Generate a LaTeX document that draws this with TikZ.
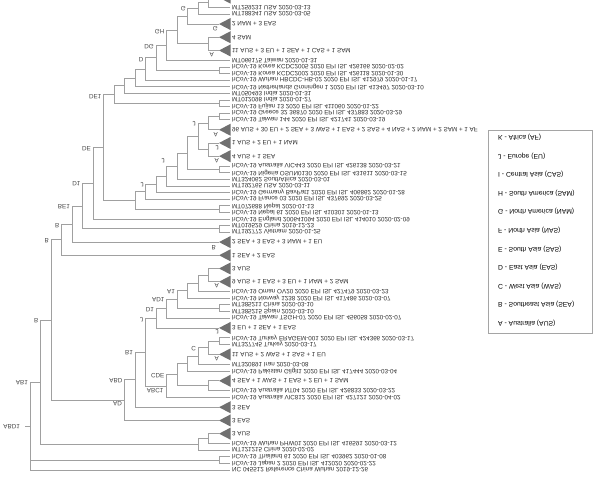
\documentclass[tikz,border=0pt]{standalone}
\usepackage{fontspec}
\setmainfont{Liberation Sans}
\definecolor{brc}{RGB}{160,160,160}
\definecolor{trc}{RGB}{112,112,112}
\definecolor{txc}{RGB}{45,45,45}
\definecolor{nlc}{RGB}{70,70,70}
\definecolor{bxc}{RGB}{165,165,165}
\newcommand\tedge[2]{\draw[br] (#1) |- (#2);}
\newcommand\ttri[1]{\fill[tri] (#1) -- ++(11.5,-6) -- ++(0,12) -- cycle;}
\begin{document}
\begin{tikzpicture}[x=1bp,y=-1bp,
  br/.style={draw=brc,line width=0.75bp},
  lf/.style={anchor=west,inner sep=0pt,yscale=-1,text=txc,font=\fontsize{6.3}{7}\selectfont},
  nl/.style={anchor=east,inner sep=0pt,yscale=-1,text=nlc,font=\fontsize{6.3}{7}\selectfont},
  tri/.style={fill=trc},
  lg/.style={anchor=west,inner sep=0pt,yscale=-1,text=black,font=\fontsize{6.8}{8}\selectfont},
  box/.style={draw=bxc,line width=0.75bp}]
\useasboundingbox (0,0) rectangle (600,489);
\clip (0,0) rectangle (600,489);
% ---------- leaves ----------
\coordinate (T0) at (219,-2.39);
\coordinate (L1) at (229.5,7.52);
\coordinate (L2) at (229.5,14.12);
\coordinate (T3) at (219,24.04);
\coordinate (T4) at (219,37.25);
\coordinate (T5) at (219,50.46);
\coordinate (L6) at (229.5,60.37);
\coordinate (L7) at (229.5,66.98);
\coordinate (L8) at (229.5,73.59);
\coordinate (L9) at (229.5,80.19);
\coordinate (L10) at (229.5,86.80);
\coordinate (L11) at (229.5,93.41);
\coordinate (L12) at (229.5,100.02);
\coordinate (L13) at (229.5,106.62);
\coordinate (L14) at (229.5,113.23);
\coordinate (L15) at (229.5,119.84);
\coordinate (T16) at (219,129.75);
\coordinate (T17) at (219,142.96);
\coordinate (T18) at (219,156.18);
\coordinate (L19) at (229.5,166.09);
\coordinate (L20) at (229.5,172.69);
\coordinate (L21) at (229.5,179.30);
\coordinate (L22) at (229.5,185.91);
\coordinate (L23) at (229.5,192.51);
\coordinate (L24) at (229.5,199.12);
\coordinate (L25) at (229.5,205.73);
\coordinate (L26) at (229.5,212.33);
\coordinate (L27) at (229.5,218.94);
\coordinate (L28) at (229.5,225.55);
\coordinate (L29) at (229.5,232.16);
\coordinate (T30) at (219,242.07);
\coordinate (T31) at (219,255.28);
\coordinate (T32) at (219,268.49);
\coordinate (T33) at (219,281.71);
\coordinate (L34) at (229.5,291.62);
\coordinate (L35) at (229.5,298.23);
\coordinate (L36) at (229.5,304.83);
\coordinate (L37) at (229.5,311.44);
\coordinate (L38) at (229.5,318.05);
\coordinate (T39) at (219,327.96);
\coordinate (L40) at (229.5,337.87);
\coordinate (L41) at (229.5,344.47);
\coordinate (T42) at (219,354.39);
\coordinate (L43) at (229.5,364.30);
\coordinate (L44) at (229.5,370.90);
\coordinate (T45) at (219,380.81);
\coordinate (L46) at (229.5,390.72);
\coordinate (L47) at (229.5,397.33);
\coordinate (T48) at (219,407.24);
\coordinate (T49) at (219,420.46);
\coordinate (T50) at (219,433.67);
\coordinate (L51) at (229.5,443.58);
\coordinate (L52) at (229.5,450.19);
\coordinate (L53) at (229.5,456.79);
\coordinate (L54) at (229.5,463.40);
\coordinate (L55) at (229.5,470.01);
% ---------- internal nodes ----------
\coordinate (nTop) at (208.5,2.57);
\coordinate (nB) at (198,8.35);
\coordinate (nG) at (187.5,16.19);
\coordinate (n45) at (208.5,43.86);
\coordinate (nGH) at (177,30.03);
\coordinate (nDG) at (166.5,45.2);
\coordinate (pK) at (219,70.29);
\coordinate (nD) at (156,57.74);
\coordinate (nXa) at (145.5,68.97);
\coordinate (nXb) at (135,77.88);
\coordinate (nXc) at (124.5,85.65);
\coordinate (pI) at (219,103.32);
\coordinate (nXd) at (114,94.48);
\coordinate (pG) at (219,116.54);
\coordinate (nJtwo) at (208.5,123.15);
\coordinate (nTT) at (208.5,149.57);
\coordinate (nJa) at (198,136.36);
\coordinate (pV) at (219,169.39);
\coordinate (nJb) at (187.5,152.88);
\coordinate (nJc) at (177,166.09);
\coordinate (nJd) at (166.5,176.0);
\coordinate (nJe) at (156,184.26);
\coordinate (nJf) at (145.5,191.69);
\coordinate (pN) at (219,209.03);
\coordinate (nJg) at (135,200.36);
\coordinate (nDEone) at (103.5,147.42);
\coordinate (nDE) at (93,183.18);
\coordinate (pC) at (219,228.86);
\coordinate (nDone) at (82.5,206.02);
\coordinate (nBEone) at (72,224.05);
\coordinate (nBb) at (61.5,239.67);
\coordinate (pT) at (208.5,275.1);
\coordinate (nAa) at (198,283.36);
\coordinate (nAb) at (187.5,290.8);
\coordinate (pS) at (219,308.14);
\coordinate (nAc) at (177,299.47);
\coordinate (nAd) at (166.5,308.76);
\coordinate (nAe) at (156,318.36);
\coordinate (pTk) at (219,341.17);
\coordinate (nC) at (208.5,347.78);
\coordinate (nCa) at (198,356.04);
\coordinate (nCb) at (187.5,363.47);
\coordinate (nCc) at (208.5,385.77);
\coordinate (nCd) at (177,374.62);
\coordinate (nCDE) at (166.5,385.98);
\coordinate (nJp) at (145.5,352.17);
\coordinate (nBone) at (135,379.70);
\coordinate (nABD) at (124.5,400.08);
\coordinate (nBB) at (51,319.88);
\coordinate (nPHW) at (208.5,438.63);
\coordinate (nMT) at (198,444.41);
\coordinate (nABone) at (40.5,382.15);
\coordinate (pJ) at (219,460.1);
\coordinate (root) at (30,426.08);
\coordinate (rs) at (25,426.08);
% ---------- branches ----------
\tedge{nTop}{T0}\tedge{nTop}{L1}
\tedge{nB}{nTop}\tedge{nB}{L2}
\tedge{nG}{nB}\tedge{nG}{T3}
\tedge{n45}{T4}\tedge{n45}{T5}
\tedge{nGH}{nG}\tedge{nGH}{n45}
\tedge{nDG}{nGH}\tedge{nDG}{L6}
\tedge{pK}{L7}\tedge{pK}{L8}
\tedge{nD}{nDG}\tedge{nD}{pK}
\tedge{nXa}{nD}\tedge{nXa}{L9}
\tedge{nXb}{nXa}\tedge{nXb}{L10}
\tedge{nXc}{nXb}\tedge{nXc}{L11}
\tedge{pI}{L12}\tedge{pI}{L13}
\tedge{nXd}{nXc}\tedge{nXd}{pI}
\tedge{pG}{L14}\tedge{pG}{L15}
\tedge{nJtwo}{pG}\tedge{nJtwo}{T16}
\tedge{nTT}{T17}\tedge{nTT}{T18}
\tedge{nJa}{nJtwo}\tedge{nJa}{nTT}
\tedge{pV}{L19}\tedge{pV}{L20}
\tedge{nJb}{nJa}\tedge{nJb}{pV}
\tedge{nJc}{nJb}\tedge{nJc}{L21}
\tedge{nJd}{nJc}\tedge{nJd}{L22}
\tedge{nJe}{nJd}\tedge{nJe}{L23}
\tedge{nJf}{nJe}\tedge{nJf}{L24}
\tedge{pN}{L25}\tedge{pN}{L26}
\tedge{nJg}{nJf}\tedge{nJg}{pN}
\tedge{nDEone}{nXd}\tedge{nDEone}{nJg}
\tedge{nDE}{nDEone}\tedge{nDE}{L27}
\tedge{pC}{L28}\tedge{pC}{L29}
\tedge{nDone}{nDE}\tedge{nDone}{pC}
\tedge{nBEone}{nDone}\tedge{nBEone}{T30}
\tedge{nBb}{nBEone}\tedge{nBb}{T31}
\tedge{pT}{T32}\tedge{pT}{T33}
\tedge{nAa}{pT}\tedge{nAa}{L34}
\tedge{nAb}{nAa}\tedge{nAb}{L35}
\tedge{pS}{L36}\tedge{pS}{L37}
\tedge{nAc}{nAb}\tedge{nAc}{pS}
\tedge{nAd}{nAc}\tedge{nAd}{L38}
\tedge{nAe}{nAd}\tedge{nAe}{T39}
\tedge{pTk}{L40}\tedge{pTk}{L41}
\tedge{nC}{pTk}\tedge{nC}{T42}
\tedge{nCa}{nC}\tedge{nCa}{L43}
\tedge{nCb}{nCa}\tedge{nCb}{L44}
\tedge{nCc}{T45}\tedge{nCc}{L46}
\tedge{nCd}{nCb}\tedge{nCd}{nCc}
\tedge{nCDE}{nCd}\tedge{nCDE}{L47}
\tedge{nJp}{nAe}\tedge{nJp}{nCDE}
\tedge{nBone}{nJp}\tedge{nBone}{T48}
\tedge{nABD}{nBone}\tedge{nABD}{T49}
\tedge{nBB}{nBb}\tedge{nBB}{nABD}
\tedge{nPHW}{T50}\tedge{nPHW}{L51}
\tedge{nMT}{nPHW}\tedge{nMT}{L52}
\tedge{nABone}{nBB}\tedge{nABone}{nMT}
\tedge{pJ}{L53}\tedge{pJ}{L54}
\tedge{root}{nABone}\tedge{root}{pJ}\tedge{root}{L55}
\draw[br] (rs) -- (root);
% ---------- collapsed clades ----------
\ttri{T0}\ttri{T3}\ttri{T4}\ttri{T5}\ttri{T16}\ttri{T17}\ttri{T18}
\ttri{T30}\ttri{T31}\ttri{T32}\ttri{T33}\ttri{T39}\ttri{T42}\ttri{T45}
\ttri{T48}\ttri{T49}\ttri{T50}
% ---------- leaf labels ----------
\node[lf] (tL1) at (232,7.52) {MT259231 USA 2020-03-13};
\node[lf] (tL2) at (232,14.12) {MT188341 USA 2020-03-05};
\node[lf] (tT3) at (232,24.04) {2 NAM + 3 EAS};
\node[lf] (tT4) at (232,37.25) {4 SAM};
\node[lf] (tT5) at (232,50.46) {11 AUS + 3 EU + 1 SEA + 1 CAS + 1 SAM};
\node[lf] (tL6) at (232,60.37) {MT066175 Taiwan 2020-01-31};
\node[lf] (tL7) at (232,66.98) {hCoV-19 Korea KCDC2005 2020 EPI ISL 426166 2020-02-02};
\node[lf] (tL8) at (232,73.59) {hCoV-19 Korea KCDC2002 2020 EPI ISL 426118 2020-01-30};
\node[lf] (tL9) at (232,80.19) {hCoV-19 Wuhan HBCDC-HB-02 2020 EPI ISL 412979 2020-01-17};
\node[lf] (tL10) at (232,86.80) {hCoV-19 Netherlands Groningen 1 2020 EPI ISL 413497 2020-03-10};
\node[lf] (tL11) at (232,93.41) {MT050493 India 2020-01-31};
\node[lf] (tL12) at (232,100.02) {MT012098 India 2020-01-27};
\node[lf] (tL13) at (232,106.62) {hCoV-19 Fujian 13 2020 EPI ISL 411060 2020-01-22};
\node[lf] (tL14) at (232,113.23) {hCoV-19 Greece 32 36870 2020 EPI ISL 437883 2020-03-29};
\node[lf] (tL15) at (232,119.84) {hCoV-19 Taiwan 144 2020 EPI ISL 421741 2020-03-19};
\node[lf] (tT16) at (232,129.75) {96 AUS + 30 EU + 2 SEA + 3 WAS + 1 EAS + 2 SAS + 4 NAS + 2 NAM + 2 SAM + 1 AF};
\node[lf] (tT17) at (232,142.96) {1 AUS + 2 EU + 1 NAM};
\node[lf] (tT18) at (232,156.18) {4 AUS + 1 SEA};
\node[lf] (tL19) at (232,166.09) {hCoV-19 Australia VIC443 2020 EPI ISL 426138 2020-03-21};
\node[lf] (tL20) at (232,172.69) {hCoV-19 Nigeria OSUN0130 2020 EPI ISL 431611 2020-03-15};
\node[lf] (tL21) at (232,179.30) {MT324062 SouthAfrica 2020-03-01};
\node[lf] (tL22) at (232,185.91) {MT192765 USA 2020-03-11};
\node[lf] (tL23) at (232,192.51) {hCoV-19 Germany BavPat1 2020 EPI ISL 406862 2020-01-28};
\node[lf] (tL24) at (232,199.12) {hCoV-19 France 03 2020 EPI ISL 437692 2020-03-25};
\node[lf] (tL25) at (232,205.73) {MT072688 Nepal 2020-01-13};
\node[lf] (tL26) at (232,212.33) {hCoV-19 Nepal 61 2020 EPI ISL 410301 2020-01-13};
\node[lf] (tL27) at (232,218.94) {hCoV-19 England 200641094 2020 EPI ISL 414010 2020-02-09};
\node[lf] (tL28) at (232,225.55) {MT019529 China 2019-12-23};
\node[lf] (tL29) at (232,232.16) {MT192772 Vietnam 2020-01-25};
\node[lf] (tT30) at (232,242.07) {2 SEA + 3 EAS + 3 NAM + 1 EU};
\node[lf] (tT31) at (232,255.28) {1 SEA + 2 EAS};
\node[lf] (tT32) at (232,268.49) {3 AUS};
\node[lf] (tT33) at (232,281.71) {9 AUS + 1 EAS + 3 EU + 1 NAM + 2 SAM};
\node[lf] (tL34) at (232,291.62) {hCoV-19 Oman OV20 2020 EPI ISL 427479 2020-03-23};
\node[lf] (tL35) at (232,298.23) {hCoV-19 Norway 1238 2020 EPI ISL 417486 2020-03-07};
\node[lf] (tL36) at (232,304.83) {MT385211 China 2020-03-10};
\node[lf] (tL37) at (232,311.44) {MT385215 Spain 2020-03-10};
\node[lf] (tL38) at (232,318.05) {hCoV-19 Taiwan TSGH-07 2020 EPI ISL 456058 2020-02-07};
\node[lf] (tT39) at (232,327.96) {3 EU + 1 SEA + 1 EAS};
\node[lf] (tL40) at (232,337.87) {hCoV-19 Turkey ERAGEM-001 2020 EPI ISL 424366 2020-03-17};
\node[lf] (tL41) at (232,344.47) {MT327745 Turkey 2020-03-17};
\node[lf] (tT42) at (232,354.39) {11 AUS + 2 WAS + 1 SAS + 1 EU};
\node[lf] (tL43) at (232,364.30) {MT320891 Iran 2020-03-08};
\node[lf] (tL44) at (232,370.90) {hCoV-19 Pakistan Gilgit1 2020 EPI ISL 417444 2020-03-04};
\node[lf] (tT45) at (232,380.81) {4 SEA + 1 WAS + 1 EAS + 2 EU + 1 SAM};
\node[lf] (tL46) at (232,390.72) {hCoV-19 Australia NT04 2020 EPI ISL 426833 2020-03-22};
\node[lf] (tL47) at (232,397.33) {hCoV-19 Australia VIC812 2020 EPI ISL 427121 2020-04-02};
\node[lf] (tT48) at (232,407.24) {3 SEA};
\node[lf] (tT49) at (232,420.46) {3 EAS};
\node[lf] (tT50) at (232,433.67) {3 AUS};
\node[lf] (tL51) at (232,443.58) {hCoV-19 Wuhan PHW01 2020 EPI ISL 416591 2020-03-12};
\node[lf] (tL52) at (232,450.19) {MT121215 China 2020-02-02};
\node[lf] (tL53) at (232,456.79) {hCoV-19 Thailand 61 2020 EPI ISL 403962 2020-01-08};
\node[lf] (tL54) at (232,463.40) {hCoV-19 Japan 2 2020 EPI ISL 412020 2020-02-22};
\node[lf] (tL55) at (232,470.01) {NC 045512 Reference China Wuhan 2019-12-26};
% ---------- clade letters at collapsed clades ----------
\node[nl] (cT3) at (218,28.5) {G};
\node[nl] (cT5) at (214,54.5) {A};
\node[nl] (cT16) at (218,134.5) {A};
\node[nl] (cT17) at (219,147.5) {J};
\node[nl] (cT18) at (219,160.5) {A};
\node[nl] (cT30) at (216,247.5) {B};
\node[nl] (cT33) at (219,286) {A};
\node[nl] (cT39) at (219,332) {J};
\node[nl] (cT42) at (219,358.5) {A};
% ---------- internal node labels ----------
\node[nl] (lG) at (186,8.5) {G};
\node[nl] (lGH) at (164.5,32) {GH};
\node[nl] (lDG) at (154,47) {DG};
\node[nl] (lD) at (143.5,60) {D};
\node[nl] (lDEone) at (101.5,96.5) {DE1};
\node[nl] (lJa) at (196,123.5) {J};
\node[nl] (lJd) at (165,161) {J};
\node[nl] (lJf) at (144,184.5) {J};
\node[nl] (lDE) at (91,149) {DE};
\node[nl] (lDone) at (80.5,184) {D1};
\node[nl] (lBEone) at (70,207) {BE1};
\node[nl] (lBb) at (59.5,225.5) {B};
\node[nl] (lBB) at (49,241) {B};
\node[nl] (lABone) at (38.5,321) {B};
\node[nl] (lAb) at (175,291.5) {A1};
\node[nl] (lAc) at (164.5,300) {AD1};
\node[nl] (lAd) at (154,309.5) {D1};
\node[nl] (lAe) at (143.5,319.5) {J};
\node[nl] (lC) at (196,348.5) {C};
\node[nl] (lBone) at (133,353) {B1};
\node[nl] (lCDE) at (164.5,375.5) {CDE};
\node[nl] (lABC) at (163.5,390.5) {ABC1};
\node[nl] (lABD) at (122.5,381) {ABD};
\node[nl] (lAD) at (122,403.5) {AD};
\node[nl] (lAB) at (28,382.5) {AB1};
\node[nl] (lRoot) at (20,427) {ABD1};
% ---------- legend ----------
\draw[box] (488,130) rectangle (592,333);
\node[lg] (kK) at (498,137.2) {K - Africa (AF)};
\node[lg] (kJ) at (498,155.8) {J - Europe (EU)};
\node[lg] (kI) at (498,174.4) {I - Central Asia (CAS)};
\node[lg] (kH) at (498,193.0) {H - South America (SAM)};
\node[lg] (kG) at (498,211.6) {G - North America (NAM)};
\node[lg] (kF) at (498,230.2) {F - North Asia (NAS)};
\node[lg] (kE) at (498,248.8) {E - South Asia (SAS)};
\node[lg] (kD) at (498,267.4) {D - East Asia (EAS)};
\node[lg] (kC) at (498,286.0) {C - West Asia (WAS)};
\node[lg] (kB) at (498,304.6) {B - Southeast Asia (SEA)};
\node[lg] (kA) at (498,323.2) {A - Australia (AUS)};
\end{tikzpicture}
\end{document}
